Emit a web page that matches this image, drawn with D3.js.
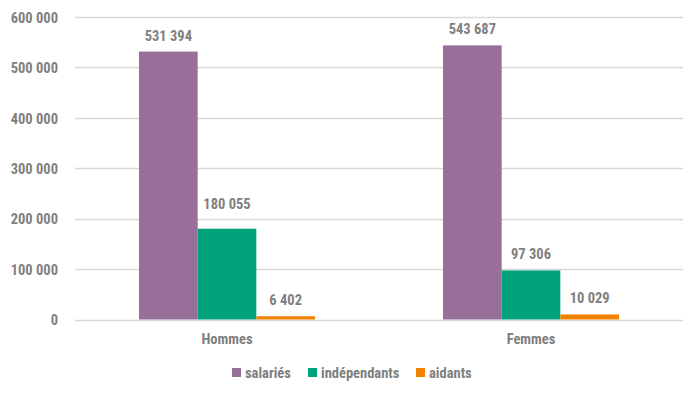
<!DOCTYPE html>
<html><head><meta charset="utf-8">
<script src="https://cdn.jsdelivr.net/npm/d3@7"></script>
<style>
body{margin:0;background:#fff;}
text{font-family:"Liberation Sans Narrow","Arial Narrow","Roboto Condensed","Liberation Sans",sans-serif;font-weight:bold;fill:#7f7f7f;}
</style></head>
<body><svg id="c" width="700" height="396"></svg>
<script>
const categories = ["Hommes", "Femmes"];
const seriesNames = ["salariés", "indépendants", "aidants"];
const salaries = [531394, 543687];
const independants = [180055, 97306];
const aidants = [6402, 10029];
const yTicks = [0, 100000, 200000, 300000, 400000, 500000, 600000];
const colors = ["#976f99", "#00a37b", "#f28200"];

const seriesValues = [salaries, independants, aidants];
const fmt = v => d3.format(",")(v).replace(/,/g, " ");

const svg = d3.select("#c");
const x0 = d3.scaleBand().domain(categories).range([75, 683]).paddingInner(0.421).paddingOuter(0.2105);
const x1 = d3.scaleBand().domain(seriesNames).range([0, x0.bandwidth()]);
const y = d3.scaleLinear().domain([0, 600000]).range([319.5, 17]);

// gridlines
svg.append("g").selectAll("line").data(yTicks).join("line")
  .attr("x1", 75).attr("x2", 683)
  .attr("y1", d => Math.round(y(d)) + 0.5).attr("y2", d => Math.round(y(d)) + 0.5)
  .attr("stroke", "#d9d9d9").attr("stroke-width", 1.3);

// y axis labels
const yAxis = d3.axisLeft(y).tickValues(yTicks).tickFormat(fmt).tickSize(0).tickPadding(0);
const ga = svg.append("g").attr("transform", "translate(58,0)").call(yAxis);
ga.select(".domain").remove();
ga.selectAll("text").attr("font-size", 14.5).attr("font-family", null).attr("fill", null).attr("dy", "0.36em");

// bars
const groups = svg.append("g").selectAll("g").data(categories).join("g")
  .attr("transform", d => `translate(${x0(d)},0)`);
const cells = groups.selectAll("g").data((c, ci) => seriesNames.map((s, si) => ({s, si, v: seriesValues[si][ci]}))).join("g");
cells.append("rect")
  .attr("x", d => x1(d.s)).attr("width", x1.bandwidth())
  .attr("y", d => y(d.v)).attr("height", d => y(0) - y(d.v))
  .attr("fill", d => colors[d.si]);
const labelLift = {180055: 20};
cells.append("text")
  .attr("x", d => x1(d.s) + x1.bandwidth() / 2)
  .attr("y", d => y(d.v) - (labelLift[d.v] || 11))
  .attr("text-anchor", "middle").attr("font-size", 14.5)
  .text(d => fmt(d.v));

// x axis labels
const xAxis = d3.axisBottom(x0).tickSize(0).tickPadding(0);
const gx = svg.append("g").attr("transform", "translate(0,334)").call(xAxis);
gx.select(".domain").remove();
gx.selectAll("text").attr("font-size", 14.5).attr("font-family", null).attr("fill", null).attr("dy", "0.71em");

// legend
const legendX = [232, 308, 416];
const lg = svg.append("g").selectAll("g").data(seriesNames).join("g")
  .attr("transform", (d, i) => `translate(${legendX[i]},368)`);
lg.append("rect").attr("width", 9).attr("height", 9).attr("fill", (d, i) => colors[i]);
lg.append("text").attr("x", 13).attr("y", 9.5).attr("font-size", 14.5).text(d => d);
</script></body></html>
